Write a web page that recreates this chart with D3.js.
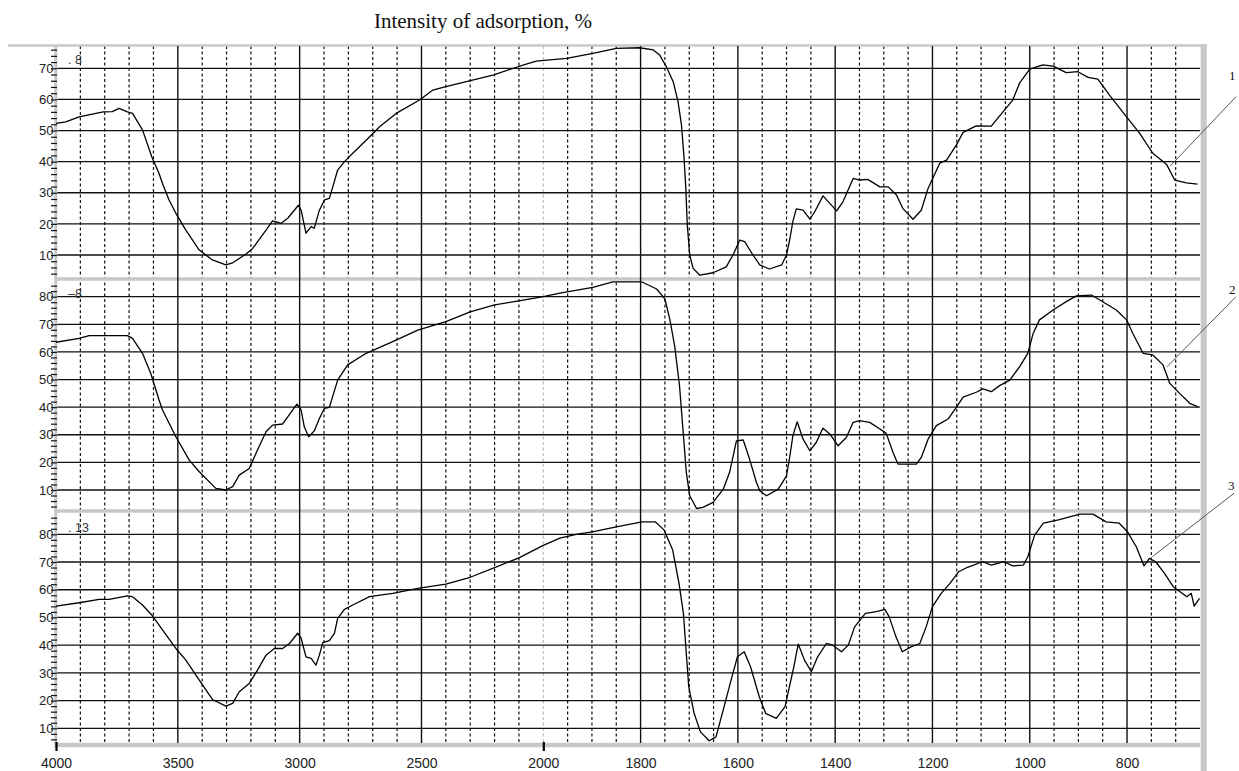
<!DOCTYPE html>
<html>
<head>
<meta charset="utf-8">
<script src="https://cdn.jsdelivr.net/npm/d3@7"></script>
<style>
  body { margin: 0; background: #fff; }
  svg { display: block; }
</style>
</head>
<body>
<svg id="chart" width="1239" height="771"></svg>
<script>
// DATA ------------------------------
const xTicks = [4000, 3500, 3000, 2500, 2000, 1800, 1600, 1400, 1200, 1000, 800];
const yTicks1 = [10, 20, 30, 40, 50, 60, 70];
const yTicks2 = [10, 20, 30, 40, 50, 60, 70, 80];
const yTicks3 = [10, 20, 30, 40, 50, 60, 70, 80];
const panelNames = [". 8", "\u20138", ". 13"];
const curveNames = ["1", "2", "3"];
// wavenumber / value where each callout line touches its curve
const calloutPoints = [[711, 38.6], [718, 54.6], [748, 71.9]];

// [wavenumber cm-1, intensity %]
const spectrum1 = [[4000,52.3],[3960,52.8],[3905,54.4],[3851,55.3],[3806,56],[3769,56.1],[3741,57.1],[3707,56],[3686,55.5],[3645,50.2],[3607,41.6],[3577,36.2],[3563,33],[3536,27.7],[3508,23.4],[3467,18],[3412,11.6],[3358,8.4],[3303,6.8],[3275,7.5],[3220,10.3],[3193,12.1],[3138,18],[3111,21],[3076,20.2],[3049,21.8],[3005,26],[2994,24.4],[2974,17],[2953,19.1],[2940,18.6],[2919,24.4],[2898,27.7],[2878,28.2],[2864,31.9],[2844,37.3],[2816,40],[2782,42.7],[2727,46.9],[2672,51.2],[2604,55.5],[2508,59.8],[2453,63],[2412,63.9],[2316,65.7],[2207,67.8],[2104,70.5],[2029,72.3],[1952,73.2],[1898,74.8],[1850,76.4],[1802,76.6],[1774,75.9],[1761,74.3],[1747,70.5],[1733,65.7],[1723,59.3],[1716,51.8],[1711,42.1],[1707,31.4],[1704,19.6],[1699,10],[1692,5.7],[1678,3.5],[1651,4.3],[1624,6.2],[1610,10],[1596,14.8],[1586,14.3],[1569,10],[1555,6.8],[1535,5.5],[1510,6.8],[1500,10],[1493,15.3],[1487,20.7],[1480,24.8],[1466,24.4],[1452,21.5],[1442,23.9],[1425,29],[1411,26.6],[1397,24.2],[1384,27.1],[1363,34.6],[1350,34.1],[1333,34.3],[1308,31.9],[1291,31.9],[1274,29.3],[1261,25],[1240,21.5],[1223,24.4],[1209,31.4],[1185,39.5],[1171,40.5],[1151,45.3],[1137,49.4],[1110,51.5],[1079,51.4],[1055,56],[1035,59.8],[1021,65.2],[1000,69.7],[973,71.1],[952,70.7],[925,68.6],[901,68.9],[880,67.1],[860,66.5],[836,61.4],[801,54.4],[774,49.1],[747,42.7],[719,39.2],[702,34.1],[678,33.2],[655,32.8]];

const spectrum2 = [[4000,63.5],[3905,64.9],[3864,65.9],[3782,65.9],[3707,65.9],[3686,64.9],[3645,59.5],[3611,52.2],[3577,42.6],[3563,39],[3508,29.3],[3453,20.8],[3412,16.6],[3344,10.6],[3303,10],[3275,11.2],[3248,15.4],[3207,17.8],[3173,24.5],[3138,31.1],[3111,33.5],[3070,33.9],[3049,36.5],[3011,41.1],[2994,39],[2981,32.9],[2963,29.3],[2940,31.4],[2919,35.9],[2898,39.6],[2878,39.9],[2844,49.8],[2803,55.3],[2727,59.5],[2618,63.7],[2515,67.9],[2400,71],[2300,74.5],[2200,77],[2100,78.5],[2000,80],[1966,81.3],[1898,83.4],[1857,85.4],[1798,85.4],[1767,82.8],[1750,79.2],[1740,71.9],[1730,62.2],[1720,47.8],[1713,32.1],[1706,16.4],[1699,7.9],[1685,3.3],[1672,3.7],[1651,5.5],[1630,10.3],[1617,16.4],[1603,27.8],[1589,28.1],[1576,21.2],[1562,12.8],[1555,9.7],[1541,7.9],[1517,10.3],[1500,15.1],[1493,22.4],[1487,29.6],[1478,34.7],[1466,28.4],[1452,24.2],[1439,27.2],[1425,32.4],[1411,30.3],[1394,26],[1377,29],[1363,34.5],[1350,35.1],[1329,34.5],[1308,32.1],[1295,30.5],[1281,23.6],[1271,19.4],[1254,19.4],[1233,19.4],[1223,21.8],[1209,28.4],[1192,33.3],[1168,35.7],[1151,39.9],[1137,43.6],[1110,45.4],[1096,46.6],[1079,45.6],[1062,47.8],[1041,49.8],[1021,54.6],[1004,59.5],[993,66.7],[980,71.6],[952,75.2],[925,78.2],[904,80.3],[873,80.6],[856,78.8],[822,75.2],[801,71.6],[788,66.7],[767,59.5],[747,58.9],[726,55.3],[712,48.6],[692,45],[671,41.4],[654,40.1]];

const spectrum3 = [[4000,54.1],[3905,55.3],[3823,56.5],[3782,56.5],[3707,57.8],[3686,57.5],[3645,54.5],[3607,50.9],[3563,45.5],[3508,38.8],[3467,34.6],[3412,27.4],[3358,20.4],[3303,18],[3275,19],[3248,23.2],[3207,26.2],[3173,31],[3138,36.4],[3104,38.8],[3070,38.8],[3042,40.6],[3008,44.3],[2994,42.5],[2974,35.8],[2953,35.2],[2933,32.8],[2919,36.4],[2905,40.9],[2878,41.6],[2857,44.3],[2844,49.7],[2816,52.9],[2782,54.5],[2713,57.5],[2618,58.7],[2515,60.5],[2400,62],[2300,64.5],[2200,68],[2100,71.5],[2000,76],[1966,78.6],[1930,80.1],[1899,80.9],[1850,82.7],[1797,84.5],[1770,84.5],[1752,81.6],[1734,74.3],[1721,62.3],[1712,51.5],[1706,37],[1701,25],[1690,15.4],[1677,8.7],[1659,5.5],[1645,6.9],[1632,15.4],[1614,27.4],[1601,35.8],[1587,37.6],[1574,32.2],[1556,21.4],[1543,15.4],[1521,13.6],[1503,17.8],[1494,25],[1485,32.2],[1476,40.4],[1463,34.6],[1449,30.4],[1436,35.8],[1418,40.6],[1405,40],[1387,37.6],[1373,40],[1360,46.6],[1338,51.5],[1315,52.1],[1298,52.9],[1289,50.3],[1275,43],[1262,37.6],[1244,39.4],[1226,40.6],[1213,46.6],[1200,53.9],[1182,58.7],[1164,62.3],[1146,66.5],[1128,68.1],[1097,70.1],[1079,68.9],[1053,70.1],[1035,68.6],[1013,68.9],[1004,71.9],[990,79.7],[972,84],[941,85.2],[897,87.3],[870,87.3],[843,84.5],[816,84],[799,80.9],[781,75.5],[765,68.6],[754,71.3],[741,70.1],[723,65.9],[705,61.1],[677,57.5],[668,58.7],[662,54.1],[651,56.9]];

// CHART INIT ------------------------------
const svg = d3.select("#chart");
const gray = "#c8c8c8";
const ink = "#111";

// x axis has a scale change at 2000 cm-1 (double scale below it)
const xScale = d3.scaleLinear()
    .domain([4000, 2000, 650])
    .range([56, 543.3, 1200]);
const x0 = xScale(4000), x1 = xScale(650);
const plotTop = 46, plotBottom = 745;

const panels = [
    {top: 46,  bottom: 279, ticks: yTicks1, data: spectrum1, y: d3.scaleLinear().domain([10, 70]).range([255, 68.3])},
    {top: 279, bottom: 511, ticks: yTicks2, data: spectrum2, y: d3.scaleLinear().domain([10, 80]).range([490, 296.7])},
    {top: 511, bottom: 745, ticks: yTicks3, data: spectrum3, y: d3.scaleLinear().domain([10, 80]).range([728.3, 534.3])}
];

svg.append("rect").attr("width", 1239).attr("height", 771).attr("fill", "#fff");

// vertical grid
const majorX = d3.range(4000, 2000, -500).concat(d3.range(1800, 650, -200));
const minorX = d3.range(3900, 2000, -100).filter(d => d % 500 != 0)
    .concat(d3.range(1950, 650, -50).filter(d => d % 200 != 0));

svg.append("g").selectAll("line")
    .data(minorX)
    .enter()
    .append("line")
    .attr("x1", d => xScale(d)).attr("x2", d => xScale(d))
    .attr("y1", plotTop).attr("y2", plotBottom)
    .attr("stroke", ink)
    .attr("stroke-width", 1.2)
    .attr("stroke-dasharray", "3,2.5");

svg.append("line")
    .attr("x1", xScale(2000)).attr("x2", xScale(2000))
    .attr("y1", plotTop).attr("y2", plotBottom)
    .attr("stroke", "#bdbdbd")
    .attr("stroke-width", 1.2)
    .attr("stroke-dasharray", "3,2.5");

// horizontal grid per panel
panels.forEach(p => {
    svg.append("g").selectAll("line")
        .data(p.ticks)
        .enter()
        .append("line")
        .attr("x1", x0).attr("x2", x1)
        .attr("y1", d => p.y(d)).attr("y2", d => p.y(d))
        .attr("stroke", ink)
        .attr("stroke-width", 1.3);
});

// gray frame and panel separators
svg.append("line").attr("x1", 8).attr("x2", 1207).attr("y1", 45.5).attr("y2", 45.5)
    .attr("stroke", gray).attr("stroke-width", 2.4);
panels.slice(1).forEach(p => {
    svg.append("line").attr("x1", x0).attr("x2", x1).attr("y1", p.top).attr("y2", p.top)
        .attr("stroke", gray).attr("stroke-width", 3.4);
});
svg.append("line").attr("x1", x0).attr("x2", x1).attr("y1", 745).attr("y2", 745)
    .attr("stroke", gray).attr("stroke-width", 4.5);
svg.append("line").attr("x1", 55.8).attr("x2", 55.8).attr("y1", 45).attr("y2", 748)
    .attr("stroke", gray).attr("stroke-width", 3);
svg.append("line").attr("x1", 1203.7).attr("x2", 1203.7).attr("y1", 44.3).attr("y2", 771)
    .attr("stroke", gray).attr("stroke-width", 6);

svg.append("g").selectAll("line")
    .data(majorX.filter(d => d != 4000))
    .enter()
    .append("line")
    .attr("x1", d => xScale(d)).attr("x2", d => xScale(d))
    .attr("y1", plotTop).attr("y2", plotBottom - 2)
    .attr("stroke", ink)
    .attr("stroke-width", 1.4);

// curves
const line = d3.line();
panels.forEach((p, i) => {
    svg.append("path")
        .datum(p.data)
        .attr("fill", "none")
        .attr("stroke", "#000")
        .attr("stroke-width", 1.3)
        .attr("stroke-linejoin", "round")
        .attr("d", line.x(d => xScale(d[0])).y(d => p.y(d[1])));

    // minor ticks every 2 %
    const minor = d3.range(4, 90, 2).filter(v => p.y(v) > p.top + 2 && p.y(v) < p.bottom - 2);
    svg.append("g")
        .attr("transform", `translate(${x0 + 1}, 0)`)
        .call(d3.axisLeft(p.y).tickValues(minor).tickSize(6).tickFormat(""))
        .call(g => g.select(".domain").remove())
        .call(g => g.selectAll("line").attr("stroke", ink).attr("stroke-width", 1.2));

    // y labels
    svg.append("g")
        .attr("transform", `translate(${x0 - 2.5}, 0)`)
        .call(d3.axisLeft(p.y).tickValues(p.ticks).tickSize(0).tickPadding(0))
        .call(g => g.select(".domain").remove())
        .call(g => g.selectAll("text")
            .attr("font-family", "Liberation Sans, Arial, sans-serif")
            .attr("font-size", 13)
            .attr("fill", "#222"));

    // panel name
    svg.append("text")
        .attr("x", 68)
        .attr("y", p.top + (i == 0 ? 18 : i == 1 ? 19 : 21))
        .attr("font-family", "Liberation Sans, Arial, sans-serif")
        .attr("font-size", 12.5)
        .attr("fill", "#333")
        .text(panelNames[i]);

    // callout line with curve number
    const c = calloutPoints[i];
    const ends = [[1236, 96.7], [1236, 296.7], [1234, 493.3]];
    const labelPos = [[1229, 80], [1229, 294], [1228, 490]];
    svg.append("line")
        .attr("x1", xScale(c[0])).attr("y1", p.y(c[1]))
        .attr("x2", ends[i][0]).attr("y2", ends[i][1])
        .attr("stroke", "#444")
        .attr("stroke-width", 0.9);
    svg.append("text")
        .attr("x", labelPos[i][0]).attr("y", labelPos[i][1])
        .attr("font-family", "Liberation Serif, Times New Roman, serif")
        .attr("font-size", 13)
        .attr("fill", "#111")
        .text(curveNames[i]);
});

// bottom axis
svg.append("g")
    .attr("transform", `translate(0, ${plotBottom})`)
    .call(d3.axisBottom(xScale).tickValues(xTicks).tickSize(0).tickPadding(13).tickFormat(d3.format("d")))
    .call(g => g.select(".domain").remove())
    .call(g => g.selectAll("text")
        .attr("font-family", "Liberation Sans, Arial, sans-serif")
        .attr("font-size", 14)
        .attr("fill", "#222"));

// scale-change marks
svg.append("g")
    .attr("transform", `translate(0, ${plotBottom - 3})`)
    .call(d3.axisBottom(xScale).tickValues([4000, 2000]).tickSize(9).tickFormat(""))
    .call(g => g.select(".domain").remove())
    .call(g => g.selectAll("line").attr("stroke", "#000").attr("stroke-width", 2.2));

// title
svg.append("text")
    .attr("x", 483)
    .attr("y", 28)
    .attr("text-anchor", "middle")
    .attr("font-family", "Liberation Serif, Times New Roman, serif")
    .attr("font-size", 21)
    .attr("fill", "#111")
    .text("Intensity of adsorption, %");
</script>
</body>
</html>
